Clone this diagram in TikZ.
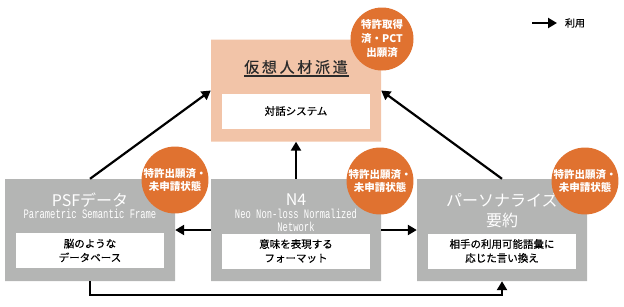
\documentclass[tikz,border=0pt]{standalone}
\usepackage{fontspec}
\setmainfont{Noto Sans CJK JP}
\newfontfamily\subfont[FakeStretch=0.68]{Liberation Mono}
\newfontfamily\innerfont[FakeBold=0.5]{Noto Sans CJK JP}
\usetikzlibrary{arrows.meta, shapes.misc}

\definecolor{peach}{HTML}{F2C4A8}
\definecolor{boxgray}{HTML}{B4B5B4}
\definecolor{badgeorange}{HTML}{E07230}
\definecolor{titledark}{HTML}{2B2B2B}

\tikzset{
  outerbox/.style={chamfered rectangle, chamfered rectangle corners=north west,
    chamfered rectangle xsep=8pt, chamfered rectangle ysep=8pt, inner sep=0pt,
    minimum width=170pt, minimum height=102pt},
  innerbox/.style={fill=white, minimum width=148pt, minimum height=35pt, inner sep=0pt,
    align=center, font=\innerfont\fontsize{10.5}{14}\selectfont},
  badge/.style={circle, fill=badgeorange, minimum size=63pt, inner sep=0pt, align=center,
    text=white, font=\bfseries\fontsize{10.5}{13}\selectfont},
  boxtitle/.style={text=white, inner sep=0pt, align=center, font=\fontsize{16}{20}\selectfont},
  boxsub/.style={text=white, inner sep=0pt, align=center, font=\subfont\fontsize{13}{13}\selectfont},
  arr/.style={line width=2.2pt, -{Triangle[length=9pt,width=10pt]}}
}

\begin{document}
\begin{tikzpicture}[x=1pt,y=-1pt]
\useasboundingbox (0,0) rectangle (624,306);

\node [outerbox, fill=peach]   (agent) at (296,90.5) {};
\node [outerbox, fill=boxgray] (psf)   at (90,230)   {};
\node [outerbox, fill=boxgray] (nfour) at (296,230)  {};
\node [outerbox, fill=boxgray] (pers)  at (502,230)  {};

\node [text=titledark, inner sep=0pt, font=\innerfont\fontsize{15}{18}\selectfont] (agenttitle) at (296,67)
  {\addfontfeature{LetterSpace=18}仮想人材派遣};
\draw [draw=titledark, line width=1.5pt] (agenttitle.south west) ++(0,2) -- ++(105,0);
\node [innerbox] (agentsys) at (296,111) {対話システム};

\node [boxtitle] (psftitle) at (90,200)  {PSFデータ};
\node [boxsub]   (psfsub)   at (90,214)  {Parametric Semantic Frame};
\node [innerbox] (psfdb)    at (90,250.5) {脳のような\\データベース};

\node [boxtitle] (nfourtitle) at (296,200)   {N4};
\node [boxsub]   (nfoursub)   at (296,220.5) {Neo Non-loss Normalized\\Network};
\node [innerbox] (nfourfmt)   at (296,251)   {意味を表現する\\フォーマット};

\node [boxtitle] (perstitle) at (502,210) {パーソナライズ\\要約};
\node [innerbox] (perssum)   at (502,251) {相手の利用可能語彙に\\応じた言い換え};

\draw [arr] (psf.north) -- (agent.west);
\draw [arr] (pers.north) -- (agent.east);
\draw [arr] (nfour.north) -- (agent.south);
\draw [arr] (nfour.west) -- (psf.east);
\draw [arr] (nfour.east) -- (pers.west);
\draw [arr] (psf.south) -- ++(0,14) -| (pers.south);

\node [badge, font=\bfseries\fontsize{10.5}{14}\selectfont] (agentbadge) at (382,39) {特許取得\\済・PCT\\出願済};
\node [badge] (psfbadge)   at (175,180) {特許出願済・\\未申請状態};
\node [badge] (nfourbadge) at (380,181) {特許出願済・\\未申請状態};
\node [badge] (persbadge)  at (585,181) {特許出願済・\\未申請状態};

\coordinate (legstart) at (532,23);
\coordinate (legend)   at (557,23);
\draw [arr] (legstart) -- (legend);
\node [font=\innerfont\fontsize{10}{12}\selectfont, inner sep=0pt] (legtext) at (575,23) {利用};
\end{tikzpicture}
\end{document}
